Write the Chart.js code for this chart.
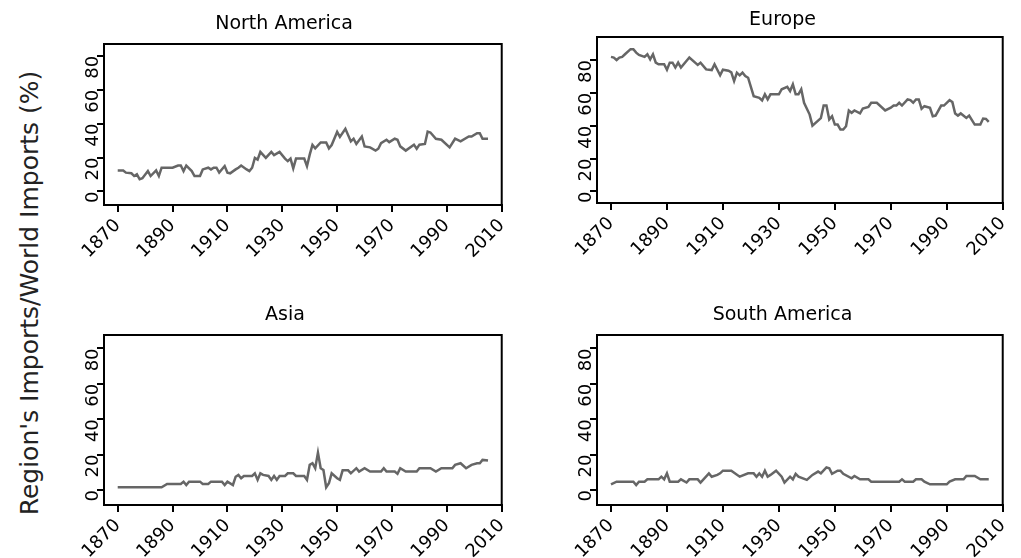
<!DOCTYPE html>
<html>
<head>
<meta charset="utf-8">
<script src="https://cdn.jsdelivr.net/npm/chart.js@4"></script>
<style>
body { margin: 0; background: #fff; width: 1021px; height: 558px; position: relative; overflow: hidden; font-family: "DejaVu Sans", sans-serif; }
.panel { position: absolute; }
#ytitle { position: absolute; left: 29px; top: 293px; transform: translate(-50%, -50%) rotate(-90deg); white-space: nowrap; font-size: 25px; color: #222; }
</style>
</head>
<body>
<div id="ytitle">Region's Imports/World Imports (%)</div>
<div class="panel" style="left:60px;top:0;width:460px;height:279px"><canvas id="na"></canvas></div>
<div class="panel" style="left:553px;top:0;width:468px;height:279px"><canvas id="eu"></canvas></div>
<div class="panel" style="left:60px;top:279px;width:460px;height:279px"><canvas id="as"></canvas></div>
<div class="panel" style="left:553px;top:279px;width:468px;height:279px"><canvas id="sa"></canvas></div>
<script>
const xTicks = [1870, 1890, 1910, 1930, 1950, 1970, 1990, 2010]
const yTicks = [0, 20, 40, 60, 80]

const naYears = [1870,1872,1873,1875,1876,1877,1878,1879,1881,1882,1884,1885,1886,1890,1892,1893,1894,1895,1897,1898,1900,1901,1903,1904,1905,1906,1907,1909,1910,1911,1913,1914,1915,1917,1918,1919,1920,1921,1922,1924,1926,1927,1929,1931,1932,1933,1934,1935,1938,1939,1940,1941,1942,1944,1946,1947,1948,1950,1951,1953,1955,1956,1957,1959,1960,1962,1964,1965,1966,1968,1969,1971,1972,1973,1975,1978,1979,1980,1982,1983,1984,1986,1988,1991,1993,1995,1998,1999,2001,2002,2003,2005]
const naValues = [12.4,12.4,11.1,10.7,9.1,10.1,7.2,7.8,12.0,9.1,12.4,9.1,14.0,14.0,15.3,15.3,12.0,15.3,12.0,9.1,9.1,13.0,14.0,13.0,14.0,14.0,11.1,15.0,11.1,10.7,13.0,14.0,15.3,13.0,12.0,14.0,19.8,18.8,23.3,19.8,23.3,21.4,23.3,19.4,17.9,19.4,13.6,19.4,19.4,14.9,21.7,27.4,25.4,28.9,28.9,25.4,27.4,35.1,32.2,37.0,29.5,31.1,28.0,32.4,26.6,26.0,24.1,25.2,28.5,30.5,29.1,31.1,30.5,26.6,24.1,27.6,25.2,27.6,28.0,35.3,34.8,31.1,30.5,26.0,31.1,29.5,32.4,32.4,34.4,34.4,31.1,31.1]

const euYears = [1870,1871,1872,1873,1874,1875,1877,1878,1879,1880,1882,1883,1884,1885,1886,1887,1889,1890,1891,1892,1893,1894,1895,1898,1901,1902,1904,1906,1907,1909,1910,1912,1913,1914,1915,1916,1917,1918,1919,1921,1923,1924,1925,1926,1927,1930,1931,1933,1934,1935,1936,1937,1938,1939,1941,1942,1945,1946,1947,1948,1949,1950,1951,1952,1953,1954,1955,1956,1957,1959,1960,1962,1963,1965,1968,1970,1971,1972,1973,1974,1976,1977,1978,1979,1980,1981,1982,1984,1985,1986,1988,1989,1991,1992,1993,1994,1995,1997,1998,1999,2000,2002,2003,2004,2005]
const euValues = [81.9,81.5,80.0,81.5,81.9,83.5,86.6,86.6,84.5,83.1,81.9,83.5,80.4,83.5,78.4,77.4,77.4,74.1,78.4,78.4,75.4,78.4,75.4,81.5,77.0,78.4,74.3,73.9,77.4,70.7,74.1,73.5,72.5,67.2,72.3,70.7,72.3,70.3,69.2,58.0,57.0,55.4,59.1,56.0,59.1,59.1,62.2,63.7,61.1,65.2,59.1,59.1,62.2,54.0,46.8,40.1,44.6,52.3,52.3,43.8,45.8,40.7,40.7,37.7,37.7,39.7,49.3,47.9,49.3,47.5,50.5,51.5,54.0,54.0,49.3,51.0,52.3,52.3,54.0,52.3,56.0,55.6,54.0,56.0,56.0,50.3,51.9,50.9,45.8,46.2,52.3,52.3,55.6,54.4,47.5,46.2,47.5,44.8,46.2,43.4,40.7,40.7,44.4,44.2,42.4]

const asYears = [1870,1886,1888,1893,1894,1895,1896,1900,1901,1903,1904,1908,1909,1910,1912,1913,1914,1915,1916,1919,1920,1921,1922,1923,1925,1926,1927,1928,1929,1931,1932,1934,1935,1938,1939,1940,1941,1942,1943,1944,1945,1946,1947,1948,1950,1951,1952,1954,1955,1957,1958,1960,1962,1966,1967,1968,1971,1972,1973,1975,1979,1980,1984,1986,1988,1992,1993,1995,1997,1999,2001,2002,2003,2005]
const asValues = [1.5,1.5,3.4,3.4,4.7,2.8,4.7,4.7,3.4,3.4,4.7,4.7,2.8,4.7,2.8,7.5,8.5,6.6,7.9,7.9,9.4,5.7,9.4,8.5,7.9,5.7,7.9,5.7,7.9,7.9,9.4,9.4,7.9,7.9,5.7,14.2,15.1,12.3,21.1,12.3,11.3,1.5,3.8,9.4,6.6,5.7,11.1,11.1,9.4,12.3,10.4,12.3,10.4,10.4,12.3,10.4,10.4,9.1,12.3,10.4,10.4,12.3,12.3,10.4,12.3,12.3,14.2,15.1,12.3,14.2,15.1,15.1,17.0,16.6]

const saYears = [1870,1872,1878,1879,1880,1882,1883,1887,1888,1889,1890,1891,1894,1895,1897,1898,1901,1902,1905,1906,1908,1909,1910,1913,1916,1919,1921,1922,1923,1924,1925,1926,1927,1929,1931,1932,1934,1935,1936,1937,1940,1942,1944,1945,1947,1948,1949,1951,1952,1953,1956,1957,1959,1962,1963,1973,1974,1975,1978,1979,1981,1982,1984,1990,1991,1993,1996,1997,2000,2002,2005]
const saValues = [3.2,4.7,4.7,2.8,4.7,4.7,6.0,6.0,7.5,6.0,9.4,4.7,4.7,6.0,4.2,6.0,6.0,4.2,9.4,7.5,8.5,9.4,10.9,10.9,7.5,9.4,9.4,7.5,9.4,7.5,10.9,7.5,8.5,10.9,7.5,4.2,7.5,6.0,9.1,7.5,5.7,8.5,10.4,9.4,12.8,12.3,9.1,10.9,10.9,9.1,6.6,7.9,6.0,6.0,4.7,4.7,6.0,4.7,4.7,6.0,6.0,4.7,3.2,3.2,4.7,6.0,6.0,7.9,7.9,6.0,6.0]

const boxPlugin = {
    id: 'box',
    afterDraw(chart) {
        const a = chart.chartArea, c = chart.ctx
        c.save()
        c.strokeStyle = '#000'
        c.lineWidth = 2
        c.strokeRect(a.left, a.top, a.right - a.left, a.bottom - a.top)
        c.restore()
    }
}

function makePanel(id, title, years, values, o) {
    const pts = years.map((y, i) => ({ x: y, y: values[i] }))
    const font = { family: 'DejaVu Sans', size: 18 }
    new Chart(document.getElementById(id), {
        type: 'line',
        data: {
            datasets: [{
                data: pts,
                borderColor: '#666666',
                borderWidth: 2.5,
                pointRadius: 0,
                tension: 0,
            }]
        },
        options: {
            responsive: true,
            maintainAspectRatio: false,
            animation: false,
            layout: { padding: { right: o.right, left: 0, bottom: 0 } },
            plugins: {
                legend: { display: false },
                tooltip: { enabled: false },
                title: {
                    display: true,
                    text: title,
                    color: '#000',
                    font: { family: 'DejaVu Sans', size: 19, weight: 'normal', lineHeight: 1.2 },
                    padding: { top: o.tTop, bottom: o.tBottom }
                }
            },
            scales: {
                x: {
                    type: 'linear',
                    min: 1865,
                    max: 2010,
                    afterBuildTicks: s => { s.ticks = xTicks.map(v => ({ value: v })) },
                    afterFit: s => { s.height = o.xh },
                    border: { display: true, color: '#000', width: 2 },
                    grid: { drawOnChartArea: false, drawTicks: true, tickLength: 7, color: '#000', lineWidth: 2 },
                    ticks: { color: '#000', font: font, minRotation: 45, maxRotation: 45, padding: 3, callback: v => String(v) }
                },
                y: {
                    min: o.ymin,
                    max: o.ymax,
                    afterBuildTicks: s => { s.ticks = yTicks.map(v => ({ value: v })) },
                    afterFit: s => { s.width = 44 },
                    border: { display: true, color: '#000', width: 2 },
                    grid: { drawOnChartArea: false, drawTicks: true, tickLength: 7, color: '#000', lineWidth: 2 },
                    ticks: { color: '#000', font: font, minRotation: 90, maxRotation: 90, padding: 4 }
                }
            }
        },
        plugins: [boxPlugin]
    })
}

makePanel('na', 'North America', naYears, naValues, { right: 12, tTop: 13, tBottom: 8.2, xh: 74, ymin: -8, ymax: 87 })
makePanel('eu', 'Europe', euYears, euValues, { right: 9, tTop: 9, tBottom: 5.2, xh: 76, ymin: -7, ymax: 94 })
makePanel('as', 'Asia', asYears, asValues, { right: 10, tTop: 25, tBottom: 8.2, xh: 53, ymin: -8.5, ymax: 87.6 })
makePanel('sa', 'South America', saYears, saValues, { right: 9, tTop: 25, tBottom: 8.2, xh: 53, ymin: -8.5, ymax: 87.6 })
</script>
</body>
</html>
